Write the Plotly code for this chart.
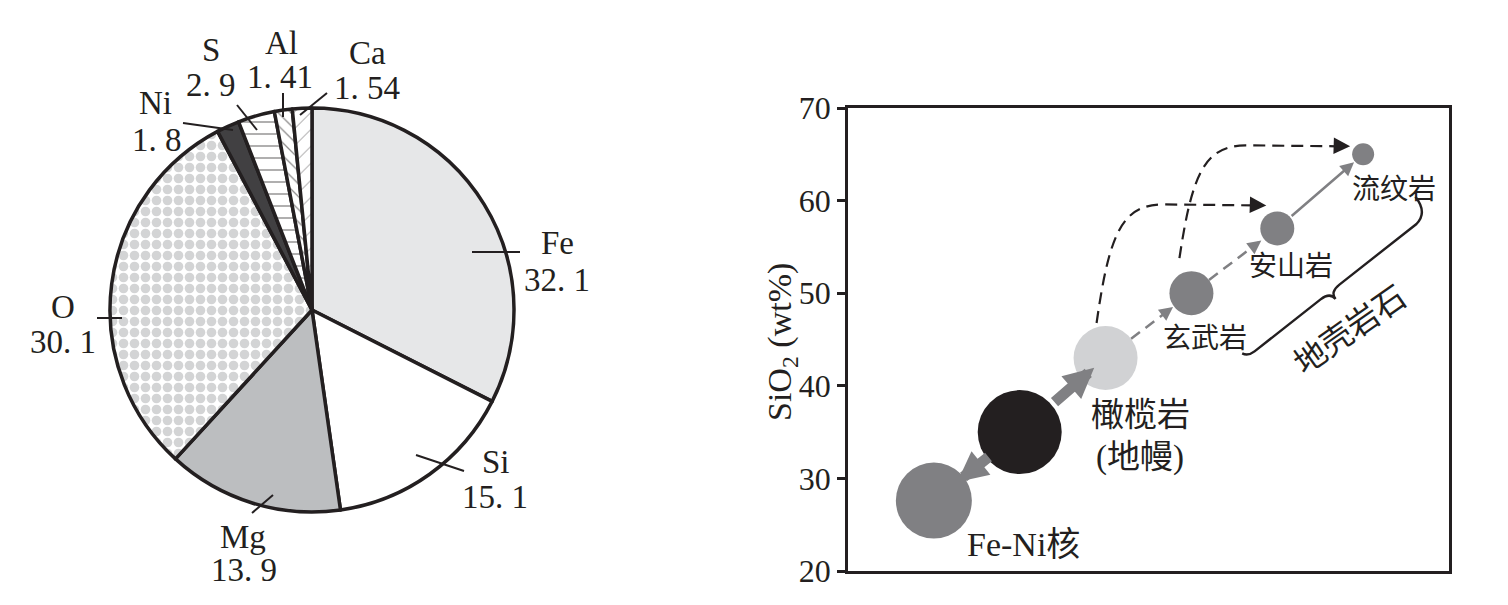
import math
import plotly.graph_objects as go

W, H = 1508, 605          # browser window
OFF = 8                   # default page body margin
FW, FH = W - 2 * OFF, H - 2 * OFF

# ---------------- data ----------------
elements = ["Fe", "Si", "Mg", "O", "Ni", "S", "Al", "Ca"]
mass_pct = [32.1, 15.1, 13.9, 30.1, 1.8, 2.9, 1.41, 1.54]
pct_text = ["32. 1", "15. 1", "13. 9", "30. 1", "1. 8", "2. 9", "1. 41", "1. 54"]

rock_x = [1, 2, 3, 4, 5, 6]
rock_sio2 = [27.6, 35, 43, 50, 57, 65]
rock_labels = ["Fe-Ni核", "", "橄榄岩", "玄武岩", "安山岩", "流纹岩"]
extra_label = "(地幔)"
group_label = "地壳岩石"
y_ticks = [20, 30, 40, 50, 60, 70]
y_title = "SiO<sub>2</sub> (wt%)"

# ---------------- style / layout ----------------
INK = "#231f20"
SERIF = "Liberation Serif, Noto Sans CJK SC, serif"

PIE_CX, PIE_CY, PIE_R = 312, 310, 202
AX_L, AX_R, AX_T, AX_B = 848, 1449, 108, 571
XR = (0, 7)
YR = (20, 70)

pie_colors = ["#e6e7e8", "#ffffff", "#bcbec0", "#ffffff", "#414042", "#ffffff", "#ffffff", "#ffffff"]
pie_shapes = ["", "", "", ".", "", "-", "\\", "/"]
pie_fg = ["#000", "#000", "#000", "#a7a9ac", "#000", INK, INK, INK]
pie_psize = [8, 8, 8, 11, 8, 12, 9, 12]
pie_solid = [0.3, 0.3, 0.3, 0.6, 0.3, 0.12, 0.15, 0.08]

rock_size = [76, 84, 64, 44, 34, 22]
rock_color = ["#808083", "#231f20", "#d1d2d4", "#808083", "#808083", "#808083"]


def paper(px, py):
    """window pixel -> paper fraction (figure sits OFF px inside the page)"""
    return (px - OFF) / FW, 1 - (py - OFF) / FH


def d2p(x, y):
    px = AX_L + (x - XR[0]) / (XR[1] - XR[0]) * (AX_R - AX_L)
    py = AX_B - (y - YR[0]) / (YR[1] - YR[0]) * (AX_B - AX_T)
    return px, py


def p2d(px, py):
    x = XR[0] + (px - AX_L) / (AX_R - AX_L) * (XR[1] - XR[0])
    y = YR[0] + (AX_B - py) / (AX_B - AX_T) * (YR[1] - YR[0])
    return x, y


fig = go.Figure()

# ---------------- pie ----------------
x0, y1 = paper(PIE_CX - PIE_R, PIE_CY - PIE_R)
x1, y0 = paper(PIE_CX + PIE_R, PIE_CY + PIE_R)
fig.add_trace(go.Pie(
    labels=elements, values=mass_pct, sort=False, direction="clockwise", rotation=0,
    textinfo="none", hoverinfo="label+value", showlegend=False, automargin=False,
    domain=dict(x=[x0, x1], y=[y0, y1]),
    marker=dict(colors=pie_colors, line=dict(color=INK, width=3.5),
                pattern=dict(shape=pie_shapes, fgcolor=pie_fg, bgcolor=pie_colors,
                             size=pie_psize, solidity=pie_solid, fillmode="overlay")),
))

# leader lines and labels (layout positions in pixels)
leaders = {
    "Fe": ((472, 252), (520, 252)),
    "Si": ((416, 455), (464, 471)),
    "Mg": ((252, 513), (273, 495)),
    "O": ((97, 318), (122, 318)),
    "Ni": ((183, 123), (233, 130)),
    "S": ((237, 105), (257, 130)),
    "Al": ((283, 93), (283, 117)),
    "Ca": ((327, 93), (300, 115)),
}
name_pos = {"Fe": (557, 243), "Si": (496, 462), "Mg": (243, 537), "O": (63, 307),
            "Ni": (155, 103), "S": (211, 50), "Al": (281, 43), "Ca": (367, 53)}
val_pos = {"Fe": (557, 280), "Si": (495, 497), "Mg": (244, 570), "O": (63, 342),
           "Ni": (157, 140), "S": (211, 85), "Al": (280, 77), "Ca": (367, 88)}

shapes = []
annotations = []
for el, pt in zip(elements, pct_text):
    (ax_, ay_), (bx_, by_) = leaders[el]
    pa, pb = paper(ax_, ay_), paper(bx_, by_)
    shapes.append(dict(type="line", xref="paper", yref="paper", x0=pa[0], y0=pa[1],
                       x1=pb[0], y1=pb[1], line=dict(color=INK, width=2)))
    nx, ny = paper(*name_pos[el])
    annotations.append(dict(x=nx, y=ny, xref="paper", yref="paper", text=el, showarrow=False,
                            xanchor="center", yanchor="middle",
                            font=dict(family=SERIF, size=33, color=INK)))
    vx, vy = paper(*val_pos[el])
    annotations.append(dict(x=vx, y=vy, xref="paper", yref="paper", text=pt, showarrow=False,
                            xanchor="center", yanchor="middle",
                            font=dict(family=SERIF, size=33, color=INK)))

# ---------------- scatter ----------------
fig.add_trace(go.Scatter(
    x=rock_x, y=rock_sio2, mode="markers", showlegend=False, hoverinfo="y",
    marker=dict(size=rock_size, color=rock_color, line=dict(width=0), opacity=1),
    xaxis="x", yaxis="y",
))


def unit(a, b):
    dx, dy = b[0] - a[0], b[1] - a[1]
    L = math.hypot(dx, dy)
    return dx / L, dy / L, L


# arrows between points: (from, to, kind, tail_gap, tip_depth)
arrows = [
    (1, 0, "thick", -4, 8),
    (1, 2, "thick", 2, 17),
    (2, 3, "dash", 0, -1),
    (3, 4, "dash", 0, -3),
    (4, 5, "solid", 0, -1),
]
for i, j, kind, gap, depth in arrows:
    A = d2p(rock_x[i], rock_sio2[i])
    B = d2p(rock_x[j], rock_sio2[j])
    ux, uy, L = unit(A, B)
    ra, rb = rock_size[i] / 2, rock_size[j] / 2
    tail = (A[0] + ux * (ra + gap), A[1] + uy * (ra + gap))
    tip = (B[0] - ux * (rb - depth), B[1] - uy * (rb - depth))
    tipd = p2d(*tip)
    if kind == "thick":
        annotations.append(dict(x=tipd[0], y=tipd[1], xref="x", yref="y",
                                ax=tail[0] - tip[0], ay=tail[1] - tip[1],
                                showarrow=True, arrowhead=2, arrowsize=0.55, arrowwidth=11,
                                arrowcolor="#808083", text="", standoff=0))
    else:
        hl = 12
        if kind == "dash":
            base = (tip[0] - ux * hl, tip[1] - uy * hl)
            a0, b0 = p2d(*tail), p2d(*base)
            shapes.append(dict(type="line", xref="x", yref="y", x0=a0[0], y0=a0[1],
                               x1=b0[0], y1=b0[1],
                               line=dict(color="#808083", width=2.5, dash="11px,7px")))
            annotations.append(dict(x=tipd[0], y=tipd[1], xref="x", yref="y",
                                    ax=-ux * (hl + 2), ay=-uy * (hl + 2),
                                    showarrow=True, arrowhead=2, arrowsize=1.1, arrowwidth=2.5,
                                    arrowcolor="#808083", text="", standoff=0))
        else:
            annotations.append(dict(x=tipd[0], y=tipd[1], xref="x", yref="y",
                                    ax=tail[0] - tip[0], ay=tail[1] - tip[1],
                                    showarrow=True, arrowhead=2, arrowsize=1.1, arrowwidth=2.5,
                                    arrowcolor="#808083", text="", standoff=0))

# black dashed curved arrows: from above a point to left of a later point
curves = [(2, 4, (-9, -35), (-11, -23)), (3, 5, (-12, -35), (-13, -8))]
for i, j, soff, eoff in curves:
    A = d2p(rock_x[i], rock_sio2[i])
    B = d2p(rock_x[j], rock_sio2[j])
    s = (A[0] + soff[0], A[1] + soff[1])
    e = (B[0] + eoff[0], B[1] + eoff[1])
    c1 = (s[0] + 13, s[1] - 0.78 * (s[1] - e[1]))
    c2 = (s[0] + 26, e[1])
    m = (s[0] + 66, e[1] - 1)
    eb = (e[0] - 14, e[1])
    pts = [paper(*p) for p in (s, c1, c2, m, eb)]
    path = "M{:.5f},{:.5f} C{:.5f},{:.5f} {:.5f},{:.5f} {:.5f},{:.5f} L{:.5f},{:.5f}".format(
        *[v for p in pts for v in p])
    shapes.append(dict(type="path", xref="paper", yref="paper", path=path,
                       line=dict(color=INK, width=2.2, dash="12px,7px")))
    ed = p2d(*e)
    annotations.append(dict(x=ed[0], y=ed[1], xref="x", yref="y", ax=-16, ay=-0.5,
                            showarrow=True, arrowhead=2, arrowsize=1.5, arrowwidth=2.2,
                            arrowcolor=INK, text="", standoff=0))

# rock labels (offsets in pixels from their points)
lab_off = [(90, 44), None, (35, 57), (14, 45), (14, 38), (31, 35)]
lab_size = [34, 31, 33, 28, 28, 28]
for k, lab in enumerate(rock_labels):
    if not lab:
        continue
    ox, oy = lab_off[k]
    annotations.append(dict(x=rock_x[k], y=rock_sio2[k], xref="x", yref="y", text=lab,
                            showarrow=False, xshift=ox, yshift=-oy,
                            xanchor="center", yanchor="middle",
                            font=dict(family=SERIF, size=lab_size[k], color=INK)))
annotations.append(dict(x=rock_x[2], y=rock_sio2[2], xref="x", yref="y", text=extra_label,
                        showarrow=False, xshift=34, yshift=-99, xanchor="center", yanchor="middle",
                        font=dict(family=SERIF, size=33, color=INK)))

# brace for crust rocks
mid = (1330, 292)
du = (0.786, -0.618)
nv = (0.618, 0.786)


def loc(u, v):
    return paper(mid[0] + u * du[0] + v * nv[0], mid[1] + u * du[1] + v * nv[1])


bp = [loc(126, -22), loc(126, -2), loc(110, 0), loc(12, 0), loc(0, 0), loc(0, 9),
      loc(0, 0), loc(-12, 0), loc(-96, 0), loc(-104, 0), loc(-107, -6)]
path = ("M{:.5f},{:.5f} Q{:.5f},{:.5f} {:.5f},{:.5f} L{:.5f},{:.5f} Q{:.5f},{:.5f} {:.5f},{:.5f} "
        "Q{:.5f},{:.5f} {:.5f},{:.5f} L{:.5f},{:.5f} Q{:.5f},{:.5f} {:.5f},{:.5f}").format(
    *[v for p in bp for v in p])
shapes.append(dict(type="path", xref="paper", yref="paper", path=path,
                   line=dict(color=INK, width=2.4)))
gx, gy = paper(1350, 330)
annotations.append(dict(x=gx, y=gy, xref="paper", yref="paper", text=group_label, showarrow=False,
                        textangle=-35, xanchor="center", yanchor="middle",
                        font=dict(family=SERIF, size=32, color=INK)))

tx, ty = paper(782, 342)
annotations.append(dict(x=tx, y=ty, xref="paper", yref="paper", text=y_title, showarrow=False,
                        textangle=-90, xanchor="center", yanchor="middle",
                        font=dict(family=SERIF, size=34, color=INK)))

ax0, ay1 = paper(AX_L, AX_T)
ax1, ay0 = paper(AX_R, AX_B)
fig.update_layout(
    width=FW, height=FH, autosize=False, margin=dict(l=0, r=0, t=0, b=0, pad=0),
    paper_bgcolor="white", plot_bgcolor="white", showlegend=False,
    xaxis=dict(domain=[ax0, ax1], range=list(XR), showgrid=False, zeroline=False,
               showticklabels=False, ticks="", showline=True, mirror=True, automargin=False,
               linecolor=INK, linewidth=2.5, fixedrange=True),
    yaxis=dict(domain=[ay0, ay1], range=list(YR), tickvals=y_ticks, showgrid=False,
               zeroline=False, ticks="outside", ticklen=8, tickwidth=2.5, tickcolor=INK,
               showline=True, mirror=True, linecolor=INK, linewidth=2.5, automargin=False,
               tickfont=dict(family=SERIF, size=32, color=INK), fixedrange=True),
    shapes=shapes, annotations=annotations,
)

fig.write_html("out.html")
